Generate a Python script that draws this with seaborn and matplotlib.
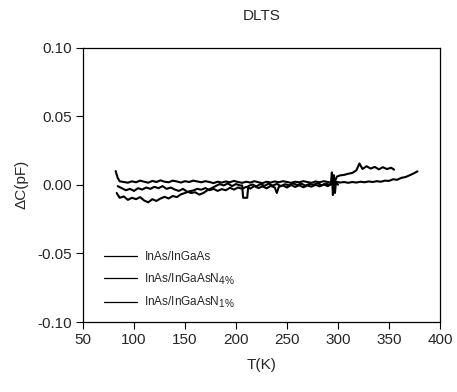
import numpy as np
import pandas as pd
import matplotlib
matplotlib.use("Agg")
import matplotlib.pyplot as plt
import seaborn as sns

try:
    import matplotlib._mathtext as _mt
    _mt.SHRINK_FACTOR = 0.85
except Exception:
    pass

title = "DLTS"
x_label = "T(K)"
y_label = "ΔC(pF)"
x_ticks = [50, 100, 150, 200, 250, 300, 350, 400]
y_ticks = [-0.10, -0.05, 0.00, 0.05, 0.10]
y_tick_labels = ["-0.10", "-0.05", "0.00", "0.05", "0.10"]
series_names = ["InAs/InGaAs", r"InAs/InGaAsN$_{\mathregular{4\%}}$", r"InAs/InGaAsN$_{\mathregular{1\%}}$"]

t_a = [82, 84, 86, 90, 94, 98, 102, 106, 110, 114, 118, 122, 126, 130, 134, 138, 142, 146,
       150, 154, 158, 162, 166, 170, 174, 178, 182, 186, 190, 194, 198, 202, 206, 210, 214,
       218, 222, 226, 230, 234, 238, 242, 246, 250, 254, 258, 262, 266, 270, 274, 278, 282,
       286, 290, 294, 298, 302, 306, 310, 314, 318, 322, 326, 330, 334, 338, 342, 346, 350,
       354, 358, 362, 366, 370, 374, 378]
c_a = [0.0100, 0.0050, 0.0025, 0.0020, 0.0015, 0.0025, 0.0018, 0.0030, 0.0022, 0.0015,
       0.0028, 0.0020, 0.0032, 0.0022, 0.0018, 0.0030, 0.0024, 0.0016, 0.0026, 0.0020,
       0.0030, 0.0024, 0.0018, 0.0026, 0.0020, 0.0012, 0.0022, 0.0016, 0.0024, 0.0018,
       0.0028, 0.0020, 0.0014, 0.0022, 0.0016, 0.0026, 0.0018, 0.0012, 0.0022, 0.0016,
       0.0024, 0.0018, 0.0026, 0.0020, 0.0014, 0.0022, 0.0018, 0.0026, 0.0020, 0.0014,
       0.0024, 0.0018, 0.0026, 0.0020, 0.0014, 0.0022, 0.0016, 0.0020, 0.0014, 0.0020,
       0.0016, 0.0022, 0.0018, 0.0024, 0.0020, 0.0026, 0.0022, 0.0030, 0.0028, 0.0040,
       0.0036, 0.0050, 0.0056, 0.0068, 0.0082, 0.0098]

t_b = [84, 88, 92, 96, 100, 104, 108, 112, 116, 120, 124, 128, 132, 136, 140, 144, 148, 152,
       156, 160, 164, 168, 172, 176, 180, 184, 188, 192, 196, 200, 204, 206, 207, 211, 212,
       216, 220, 224, 228, 232, 236, 240, 244, 248, 252, 256, 260, 264, 268, 272, 276, 280,
       284, 288, 292, 296, 299, 302, 306, 310, 314, 318, 321, 324, 328, 332, 336, 340, 344,
       348, 352, 355]
c_b = [-0.0010, -0.0025, -0.0040, -0.0030, -0.0045, -0.0025, -0.0035, -0.0020, -0.0030,
       -0.0015, -0.0025, -0.0010, -0.0030, -0.0020, -0.0035, -0.0045, -0.0030, -0.0050,
       -0.0060, -0.0055, -0.0072, -0.0060, -0.0040, -0.0025, -0.0010, 0.0005, -0.0005,
       0.0010, -0.0010, 0.0005, -0.0005, -0.0005, -0.0095, -0.0095, -0.0010, 0.0002,
       -0.0012, 0.0005, -0.0008, 0.0008, -0.0006, 0.0006, -0.0010, 0.0004, -0.0004, 0.0010,
       -0.0002, 0.0008, -0.0006, 0.0006, 0.0000, 0.0012, -0.0004, 0.0008, 0.0000, 0.0010,
       0.0060, 0.0068, 0.0072, 0.0080, 0.0086, 0.0105, 0.0155, 0.0115, 0.0135, 0.0118,
       0.0130, 0.0112, 0.0128, 0.0114, 0.0124, 0.0110]

t_c = [83, 86, 90, 94, 98, 102, 106, 110, 114, 118, 122, 126, 130, 134, 138, 142, 146, 150,
       154, 158, 162, 166, 170, 174, 178, 182, 186, 190, 194, 198, 202, 206, 210, 214, 218,
       222, 226, 230, 234, 238, 240, 242, 246, 250, 254, 258, 262, 266, 270, 274, 278, 282,
       286, 290, 293, 294, 295, 296, 297, 298, 300]
c_c = [-0.0060, -0.0095, -0.0085, -0.0110, -0.0095, -0.0105, -0.0090, -0.0115, -0.0128,
       -0.0105, -0.0118, -0.0100, -0.0088, -0.0100, -0.0082, -0.0090, -0.0070, -0.0060,
       -0.0048, -0.0042, -0.0030, -0.0036, -0.0024, -0.0040, -0.0030, -0.0045, -0.0032,
       -0.0040, -0.0022, -0.0035, -0.0020, -0.0030, -0.0015, -0.0028, -0.0010, -0.0024,
       -0.0012, -0.0026, -0.0008, -0.0020, -0.0060, -0.0015, -0.0005, -0.0020, -0.0002,
       -0.0016, -0.0004, -0.0018, -0.0006, -0.0014, 0.0000, -0.0012, 0.0002, -0.0010,
       0.0004, 0.0090, -0.0075, 0.0070, -0.0060, 0.0020, 0.0000]

sns.set_theme(style="white")
plt.rcParams["font.family"] = ["Liberation Sans", "DejaVu Sans"]
plt.rcParams["mathtext.fontset"] = "custom"
plt.rcParams["mathtext.rm"] = "Liberation Sans"
plt.rcParams["mathtext.it"] = "Liberation Sans:italic"
plt.rcParams["axes.unicode_minus"] = False

df = pd.concat([
    pd.DataFrame({"T": t_a, "C": c_a, "s": series_names[0]}),
    pd.DataFrame({"T": t_b, "C": c_b, "s": series_names[1]}),
    pd.DataFrame({"T": t_c, "C": c_c, "s": series_names[2]}),
], ignore_index=True)

fig = plt.figure(figsize=(4.57, 3.92), dpi=100)
ax = fig.add_axes([83 / 457, 1 - 322 / 392, 357 / 457, (322 - 47.5) / 392])

sns.lineplot(data=df, x="T", y="C", hue="s", palette=["black"] * 3, sort=False,
             estimator=None, linewidth=1.5, legend=False, ax=ax)

ax.set_xlim(50, 400)
ax.set_ylim(-0.10, 0.10)
ax.set_xticks(x_ticks)
ax.set_xticklabels([str(v) for v in x_ticks])
ax.set_yticks(y_ticks)
ax.set_yticklabels(y_tick_labels)
ax.tick_params(axis="both", direction="out", length=5, width=0.8, color="black",
               labelsize=11, pad=3, bottom=True, left=True)
for sp in ax.spines.values():
    sp.set_color("black")
    sp.set_linewidth(0.9)

ax.set_title(title, fontsize=11, pad=20)
ax.set_xlabel(x_label, fontsize=11, labelpad=8)
ax.set_ylabel(y_label, fontsize=11, labelpad=6)

leg = ax.legend(ax.lines[:3], series_names, loc="lower left", bbox_to_anchor=(0.03, 0.005),
                frameon=False, fontsize=8.5, handlelength=2.8, handletextpad=0.6,
                labelspacing=0.7)
for h in leg.get_lines():
    h.set_linewidth(0.9)

fig.savefig("out.png", dpi=100)
